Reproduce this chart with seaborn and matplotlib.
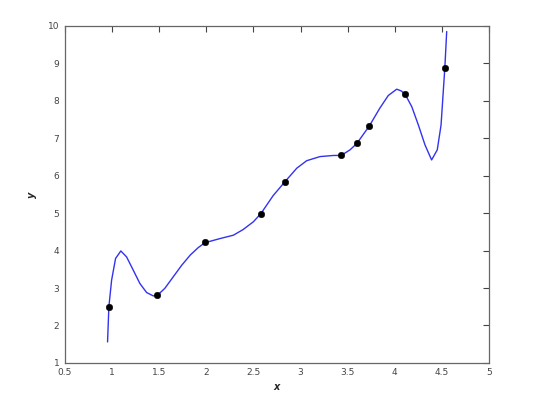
import numpy as np
import pandas as pd
import seaborn as sns
import matplotlib.pyplot as plt

# data points
px = [0.97, 1.48, 1.99, 2.58, 2.835, 3.43, 3.60, 3.73, 4.11, 4.53]
py = [2.50, 2.81, 4.22, 4.99, 5.84, 6.54, 6.86, 7.33, 8.17, 8.87]

# curve
cx = [0.953, 0.967, 0.996, 1.038, 1.094, 1.155, 1.225, 1.296, 1.367, 1.437,
      1.484, 1.56, 1.65, 1.74, 1.83, 1.915, 1.986, 2.145, 2.287, 2.39,
      2.50, 2.58, 2.71, 2.835, 2.96, 3.065, 3.207, 3.35, 3.43, 3.525,
      3.597, 3.73, 3.84, 3.93, 4.02, 4.07, 4.11, 4.18, 4.25, 4.32,
      4.39, 4.45, 4.49, 4.53, 4.55]
cy = [1.56, 2.50, 3.21, 3.79, 3.99, 3.83, 3.48, 3.12, 2.88, 2.79,
      2.81, 2.99, 3.30, 3.61, 3.88, 4.08, 4.21, 4.32, 4.41, 4.56,
      4.77, 4.99, 5.47, 5.84, 6.20, 6.40, 6.51, 6.54, 6.54, 6.69,
      6.86, 7.33, 7.80, 8.14, 8.31, 8.26, 8.17, 7.84, 7.35, 6.82,
      6.42, 6.69, 7.35, 8.87, 9.85]

curve = pd.DataFrame({"x": cx, "y": cy})
pts = pd.DataFrame({"x": px, "y": py})

sns.set_style("white")
fig = plt.figure(figsize=(5.59, 4.11), dpi=100)
ax = fig.add_axes([0.116, 0.117, 0.759, 0.820])

sns.lineplot(data=curve, x="x", y="y", sort=False, color="#3333ee", linewidth=1.0, ax=ax)
sns.scatterplot(data=pts, x="x", y="y", color="black", s=22, edgecolor="black", zorder=3, ax=ax)

ax.set_xlim(0.5, 5)
ax.set_ylim(1, 10)
ax.set_xticks(np.arange(0.5, 5.01, 0.5))
ax.set_xticklabels(["0.5", "1", "1.5", "2", "2.5", "3", "3.5", "4", "4.5", "5"])
ax.set_yticks(range(1, 11))
ax.tick_params(direction="in", length=4, width=0.8, colors="#444444",
               labelsize=6.5, top=True, right=True, pad=4)
for s in ax.spines.values():
    s.set_color("#666666")
    s.set_linewidth(0.9)
ax.set_xlabel("x", fontsize=7, fontweight="bold", style="italic", labelpad=3)
ax.set_ylabel("y", fontsize=7, fontweight="bold", style="italic", labelpad=8)

fig.savefig("out.png", dpi=100)
